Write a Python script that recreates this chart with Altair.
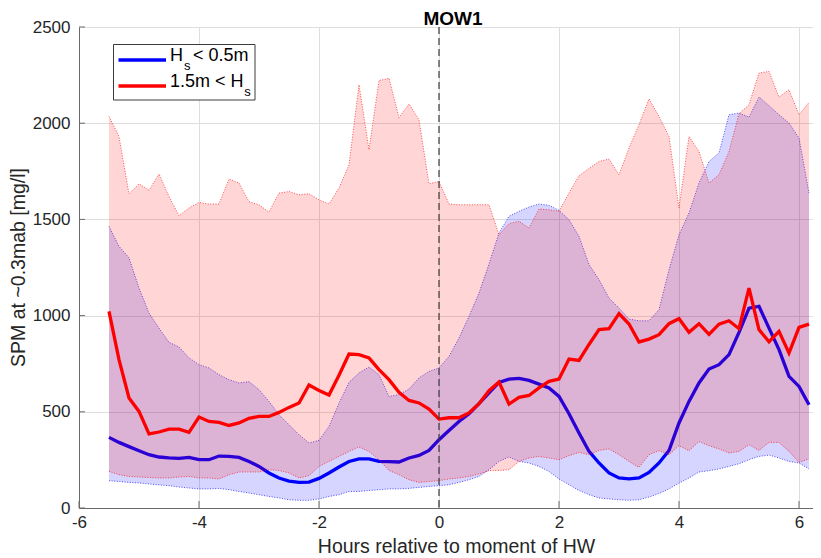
import altair as alt
import pandas as pd

# time axis: minutes relative to HW (10-minute steps)
minutes = [-330, -320, -310, -300, -290, -280, -270, -260, -250, -240,
           -230, -220, -210, -200, -190, -180, -170, -160, -150, -140,
           -130, -120, -110, -100, -90, -80, -70, -60, -50, -40,
           -30, -20, -10, 0, 10, 20, 30, 40, 50, 60,
           70, 80, 90, 100, 110, 120, 130, 140, 150, 160,
           170, 180, 190, 200, 210, 220, 230, 240, 250, 260,
           270, 280, 290, 300, 310, 320, 330, 340, 350, 360, 370]
hours = [m / 60 for m in minutes]

# Hs < 0.5 m (blue)
blue_mean = [367, 341, 319, 298, 277, 265, 260, 258, 263, 251,
             251, 270, 268, 263, 242, 216, 182, 156, 140, 133,
             135, 154, 182, 213, 242, 255, 255, 242, 241, 239,
             260, 273, 299, 355, 403, 450, 490, 542, 598, 653,
             670, 674, 663, 644, 624, 580, 490, 390, 295, 234,
             182, 156, 151, 156, 185, 234, 299, 442, 554, 650,
             722, 745, 797, 913, 1039, 1048, 935, 823, 684, 632, 537]
blue_hi = [1464, 1360, 1300, 1143, 1013, 935, 861, 837, 780, 745,
           728, 693, 667, 650, 657, 615, 554, 485, 433, 381,
           338, 352, 424, 545, 653, 702, 733, 693, 580, 589,
           618, 676, 710, 728, 788, 883, 996, 1117, 1268, 1429,
           1516, 1542, 1564, 1580, 1573, 1547, 1498, 1412, 1265, 1187,
           1091, 1039, 982, 973, 973, 1031, 1238, 1420, 1533, 1689,
           1801, 1845, 2044, 2053, 2032, 2136, 2091, 2044, 2001, 1923, 1637]
blue_lo = [142, 138, 133, 130, 125, 120, 116, 109, 104, 99,
           99, 102, 95, 86, 78, 69, 60, 52, 43, 40,
           40, 47, 60, 69, 86, 86, 91, 95, 99, 99,
           102, 107, 112, 116, 121, 133, 147, 164, 199, 242,
           265, 242, 234, 216, 190, 151, 121, 91, 69, 52,
           47, 43, 40, 43, 57, 75, 99, 130, 156, 187,
           194, 203, 216, 230, 251, 268, 275, 260, 242, 234, 203]

# 1.5 m < Hs (red)
red_mean = [1022, 771, 572, 502, 385, 395, 410, 410, 393, 473,
            450, 445, 429, 442, 466, 476, 476, 497, 523, 546,
            639, 611, 587, 690, 800, 797, 780, 719, 667, 601,
            559, 546, 514, 462, 469, 469, 494, 542, 610, 655,
            540, 575, 585, 624, 658, 670, 774, 767, 850, 927,
            932, 1010, 956, 863, 878, 901, 958, 984, 913, 958,
            902, 956, 973, 932, 1143, 927, 864, 918, 805, 939, 956]
red_hi = [2035, 1931, 1632, 1685, 1651, 1736, 1619, 1519, 1559, 1588,
          1580, 1580, 1710, 1689, 1592, 1576, 1538, 1637, 1645, 1628,
          1633, 1602, 1580, 1663, 1784, 2200, 1862, 2222, 2233, 2030,
          2100, 2018, 1685, 1697, 1580, 1576, 1576, 1576, 1576, 1420,
          1478, 1490, 1455, 1554, 1550, 1542, 1637, 1727, 1765, 1801,
          1814, 1732, 1871, 1992, 2127, 2035, 1931, 1559, 1931, 1853,
          1689, 1732, 1853, 2049, 2096, 2261, 2269, 2136, 2174, 2044, 2108]
red_lo = [190, 173, 164, 161, 159, 156, 156, 161, 164, 156,
          156, 151, 173, 187, 187, 187, 199, 195, 182, 156,
          168, 216, 242, 268, 294, 317, 294, 251, 195, 173,
          147, 133, 138, 142, 151, 156, 164, 177, 194, 195,
          199, 242, 260, 268, 260, 251, 272, 289, 277, 299,
          307, 277, 242, 211, 277, 298, 277, 324, 298, 345,
          324, 307, 286, 294, 329, 299, 341, 341, 294, 237, 255]

x_ticks = [-6, -4, -2, 0, 2, 4, 6]
y_ticks = [0, 500, 1000, 1500, 2000, 2500]
hw_time = [0]

title_text = "MOW1"
x_title = "Hours relative to moment of HW"
y_title = "SPM at ~0.3mab [mg/l]"

FONT = "Liberation Sans"
TXT = "#262626"
AX = "#6a6a6a"
BLUE = "#0000ff"
RED = "#ff0000"

blue_df = pd.DataFrame({"t": hours, "mean": blue_mean, "lo": blue_lo, "hi": blue_hi})
red_df = pd.DataFrame({"t": hours, "mean": red_mean, "lo": red_lo, "hi": red_hi})
one = pd.DataFrame({"a": [0]})

xscale = alt.Scale(domain=[-6, 6.2333], nice=False, zero=False)
yscale = alt.Scale(domain=[0, 2500], nice=False, zero=False)

x_axis = alt.Axis(values=x_ticks, labelExpr="'' + datum.value", title=x_title,
                  grid=True, gridColor="#dedede", gridWidth=1,
                  ticks=False, tickSize=0, domainColor=AX, domainWidth=1,
                  labelPadding=19, labelBaseline="alphabetic", labelFontSize=17,
                  labelColor=TXT, labelFlush=False, labelOverlap=False, labelFont=FONT,
                  titleFont=FONT, titleFontSize=19.5, titleFontWeight="normal",
                  titleColor=TXT, titleX=377, titleY=44, titleAlign="center",
                  titleBaseline="alphabetic")
y_axis = alt.Axis(values=y_ticks, format="d", title=y_title,
                  grid=True, gridColor="#dedede", gridWidth=1,
                  ticks=False, tickSize=0, domainColor=AX, domainWidth=1,
                  labelPadding=9, labelFontSize=17, labelColor=TXT, labelFont=FONT,
                  labelFlush=False, labelOverlap=False, labelBaseline="middle",
                  titleFont=FONT, titleFontSize=19.5, titleFontWeight="normal",
                  titleColor=TXT, titleX=-55, titleY=240, titleAngle=270,
                  titleAlign="center", titleBaseline="alphabetic")


def X(field="t"):
    return alt.X(f"{field}:Q", scale=xscale, axis=x_axis)


def Y(field):
    return alt.Y(f"{field}:Q", scale=yscale, axis=y_axis)


def band(df, color):
    area = alt.Chart(df).mark_area(color=color, opacity=0.165).encode(
        x=X(), y=Y("lo"), y2="hi:Q")
    edges = [alt.Chart(df).mark_line(color=color, strokeWidth=0.9, strokeDash=[1, 1.6],
                                     opacity=0.75).encode(x=X(), y=Y(f))
             for f in ("lo", "hi")]
    line = alt.Chart(df).mark_line(color=color, strokeWidth=3.3).encode(x=X(), y=Y("mean"))
    return [area] + edges + [line]


layers = band(blue_df, BLUE) + band(red_df, RED)

hw = alt.Chart(pd.DataFrame({"t": hw_time})).mark_rule(
    color="#3a3a3a", strokeDash=[7, 4], strokeWidth=1.2).encode(x=X())

xt = alt.Chart(pd.DataFrame({"t": x_ticks})).mark_rule(color=AX, strokeWidth=1).encode(
    x=X(), y=alt.value(474), y2=alt.value(481))
yt = alt.Chart(pd.DataFrame({"v": y_ticks})).mark_rule(color=AX, strokeWidth=1).encode(
    y=Y("v"), x=alt.value(0), x2=alt.value(6))

# legend drawn by hand (subscripts)
leg_box = alt.Chart(one).mark_rect(fill="white", stroke="#262626", strokeWidth=0.9).encode(
    x=alt.value(34.5), x2=alt.value(176), y=alt.value(17.5), y2=alt.value(73))
leg_blue = alt.Chart(one).mark_rule(color=BLUE, strokeWidth=3.3).encode(
    x=alt.value(39.5), x2=alt.value(87), y=alt.value(33))
leg_red = alt.Chart(one).mark_rule(color=RED, strokeWidth=3.3).encode(
    x=alt.value(39.5), x2=alt.value(87), y=alt.value(59))


def txt(s, x, y, size, weight="normal", align="left", color="#000000"):
    return alt.Chart(one).mark_text(text=s, font=FONT, fontSize=size, fontWeight=weight,
                                    align=align, baseline="alphabetic", color=color).encode(
        x=alt.value(x), y=alt.value(y))


legend = [leg_box, leg_blue, leg_red,
          txt("H", 91, 34, 18), txt("s", 105, 42.5, 13), txt("< 0.5m", 114, 34, 18),
          txt("1.5m < H", 91, 60, 18), txt("s", 165.2, 68.5, 13)]

title = txt(title_text, 374, -2, 19, weight="bold", align="center")

chart = alt.layer(*layers, hw, xt, yt, *legend, title).properties(
    width=734, height=481,
    autosize=alt.AutoSizeParams(type="none"),
    padding={"left": 71, "top": 19, "right": 0, "bottom": 50},
).configure_view(stroke=None).configure(font=FONT)

chart.save("out.html", embed_options={"renderer": "svg", "actions": False})
